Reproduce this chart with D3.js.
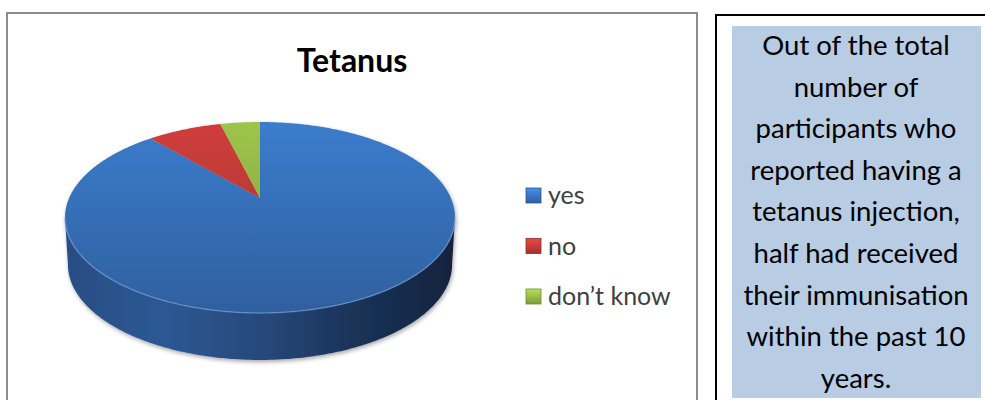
<!DOCTYPE html>
<html><head><meta charset="utf-8">
<script src="https://cdn.jsdelivr.net/npm/d3@7"></script>
<style>body{margin:0;background:#fff} svg{display:block}</style>
</head><body>
<svg id="c" width="985" height="400"></svg>
<script>
// Survey answers: "Have you had a tetanus injection?"
const categories = ["yes", "no", "don\u2019t know"];
const shares = [88.5, 7.5, 4];
const titleText = "Tetanus";
const noteLines = [
  "Out of the total", "number of", "participants who", "reported having a",
  "tetanus injection,", "half had received", "their immunisation",
  "within the past 10", "years."
];

// Colours per slice: top face (light, dark) and side wall
const topLight = ["#3b7ccc", "#cf3e3b", "#9fc44c"];
const topDark  = ["#2f609f", "#a33131", "#7b9c36"];
const wallStops = [
  ["#284d83", "#2d5893", "#27497c", "#1a3257", "#13233d"],
  ["#8a2a28", "#9a302d", "#862826", "#5e1c1a", "#421312"],
  ["#6a8a2e", "#769a34", "#66852c", "#48601f", "#334516"]
];

const svg = d3.select("#c");
const defs = svg.append("defs");

// Frames
svg.append("rect").attr("x", 7).attr("y", 13).attr("width", 690).attr("height", 400)
  .attr("fill", "#fff").attr("stroke", "#8c8c8c").attr("stroke-width", 2);
svg.append("rect").attr("x", 716).attr("y", 15).attr("width", 280).attr("height", 400)
  .attr("fill", "#fff").attr("stroke", "#000").attr("stroke-width", 2);
svg.append("rect").attr("x", 732).attr("y", 26).attr("width", 249).attr("height", 372)
  .attr("fill", "#b8cce4");

// Title
svg.append("text").attr("x", 352).attr("y", 72).attr("text-anchor", "middle")
  .attr("font-family", "Lato, 'Open Sans', sans-serif").attr("font-weight", 700)
  .attr("font-size", 32).attr("fill", "#000").text(titleText);

// 3D pie: perspective projection of a tilted disk
const P = { cx: 260, cy: 198, kx: 190.9, ky: 91.5, persp: -0.204, depth: 47, shrink: 0.985 };
function project(phi, bottom) {
  const u = Math.sin(phi), t = -Math.cos(phi);
  const den = 1 + P.persp * t;
  const sx = bottom ? P.shrink : 1;
  return [P.cx + sx * P.kx * u / den, P.cy + P.ky * t / den + (bottom ? P.depth : 0)];
}
function arcPoints(a0, a1, bottom) {
  const n = Math.max(2, Math.ceil(Math.abs(a1 - a0) / 0.01));
  return d3.range(n + 1).map(i => project(a0 + (a1 - a0) * i / n, bottom));
}
const line = d3.line();

const pie = d3.pie().sort(null).value(d => d)(shares);
const visA = Math.acos(P.persp), visB = 2 * Math.PI - visA;

// Gradients
categories.forEach((c, i) => {
  const g = defs.append("linearGradient").attr("id", "top" + i)
    .attr("gradientUnits", "userSpaceOnUse").attr("x1", 0).attr("x2", 0)
    .attr("y1", P.cy - 76).attr("y2", P.cy + 115);
  g.append("stop").attr("offset", 0).attr("stop-color", topLight[i]);
  g.append("stop").attr("offset", 1).attr("stop-color", topDark[i]);
  const w = defs.append("linearGradient").attr("id", "wall" + i)
    .attr("gradientUnits", "userSpaceOnUse").attr("x1", P.cx - 195).attr("x2", P.cx + 195)
    .attr("y1", 0).attr("y2", 0);
  wallStops[i].forEach((s, j) => w.append("stop").attr("offset", j / 4).attr("stop-color", s));
  const l = defs.append("linearGradient").attr("id", "leg" + i)
    .attr("x1", 0).attr("x2", 0).attr("y1", 0).attr("y2", 1);
  l.append("stop").attr("offset", 0).attr("stop-color", d3.color(topLight[i]).brighter(0.4));
  l.append("stop").attr("offset", 1).attr("stop-color", topDark[i]);
});
const sh = defs.append("filter").attr("id", "shadow")
  .attr("x", "-10%").attr("y", "-10%").attr("width", "120%").attr("height", "130%");
sh.append("feDropShadow").attr("dx", 1).attr("dy", 2).attr("stdDeviation", 2.2)
  .attr("flood-color", "#000").attr("flood-opacity", 0.35);

const pieG = svg.append("g").attr("filter", "url(#shadow)");

// Side walls (front half only)
pie.forEach((d, i) => {
  const a0 = Math.max(d.startAngle, visA), a1 = Math.min(d.endAngle, visB);
  if (a1 <= a0) return;
  const pts = arcPoints(a0, a1, false).concat(arcPoints(a1, a0, true));
  pieG.append("path").attr("d", line(pts) + "Z").attr("fill", `url(#wall${i})`);
});

// Top faces
pie.forEach((d, i) => {
  const pts = [[P.cx, P.cy]].concat(arcPoints(d.startAngle, d.endAngle, false));
  pieG.append("path").attr("d", line(pts) + "Z").attr("fill", `url(#top${i})`);
});

// Rim highlight on the front edge of the top face
pieG.append("path").attr("d", line(arcPoints(visA, visB, false)))
  .attr("fill", "none").attr("stroke", "#6f9ad6").attr("stroke-opacity", 0.7).attr("stroke-width", 1.4);

// Legend
const legend = svg.append("g");
categories.forEach((c, i) => {
  const by = 204 + i * 50.5;
  legend.append("rect").attr("x", 526).attr("y", by - 16).attr("width", 15).attr("height", 15)
    .attr("fill", `url(#leg${i})`).attr("stroke", d3.color(topDark[i]).darker(0.3)).attr("stroke-width", 0.8);
  legend.append("text").attr("x", 548).attr("y", by)
    .attr("font-family", "Lato, 'Open Sans', sans-serif").attr("font-size", 25)
    .attr("fill", "#404040").text(c);
});

// Note text
const note = svg.append("text").attr("text-anchor", "middle")
  .attr("font-family", "Lato, 'Open Sans', sans-serif").attr("font-size", 27.5).attr("fill", "#000");
noteLines.forEach((t, i) => {
  note.append("tspan").attr("x", 856).attr("y", 55 + i * 41.6).text(t);
});
</script>
</body></html>
